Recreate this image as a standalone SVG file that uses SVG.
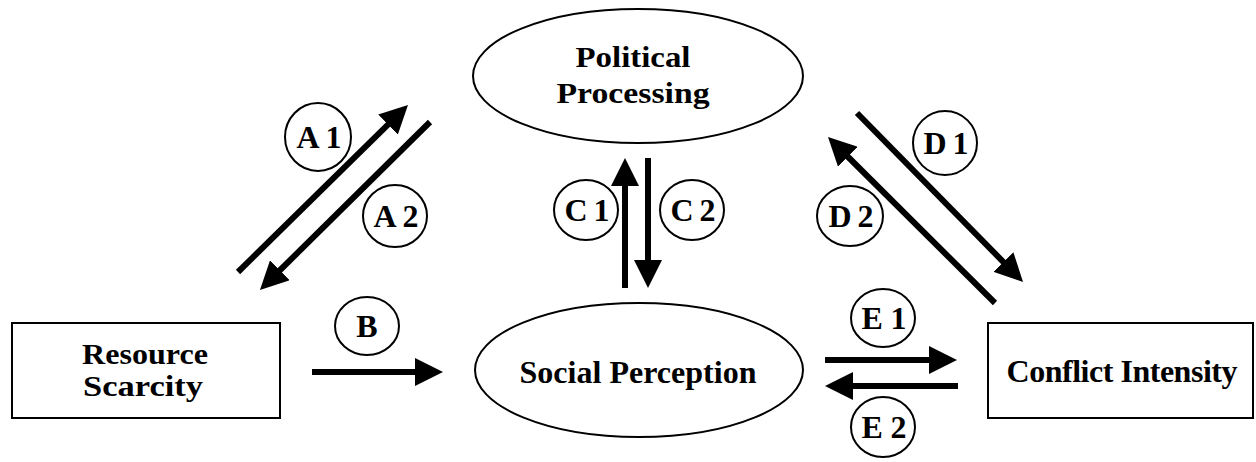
<svg xmlns="http://www.w3.org/2000/svg" width="1256" height="462" viewBox="0 0 1256 462">
<style>
.node{fill:#fff;stroke:#000;stroke-width:2}
.lbl{fill:#fff;stroke:#000;stroke-width:2}
.t{font-family:"Liberation Serif","Times New Roman",serif;font-weight:bold;font-size:32px;fill:#000;text-anchor:middle}
.ts{font-family:"Liberation Serif","Times New Roman",serif;font-weight:bold;font-size:29px;fill:#000;text-anchor:middle}
.tl{font-family:"Liberation Serif","Times New Roman",serif;font-weight:bold;font-size:32px;fill:#000;text-anchor:middle}
.arr{stroke:#000;stroke-width:6;fill:none;marker-end:url(#ah)}
</style>
<defs>
<marker id="ah" viewBox="0 0 28 28" refX="6" refY="14" markerWidth="28" markerHeight="28" markerUnits="userSpaceOnUse" orient="auto">
<path d="M0,0 L28,14 L0,28 z" fill="#000"/>
</marker>
</defs>
<rect width="1256" height="462" fill="#fff"/>
<g id="political-processing">
<ellipse class="node" cx="638" cy="76" rx="165" ry="67"/>
<text class="ts" x="633" y="67" textLength="115" lengthAdjust="spacingAndGlyphs">Political</text>
<text class="ts" x="633" y="103" textLength="153" lengthAdjust="spacingAndGlyphs">Processing</text>
</g>
<g id="social-perception">
<ellipse class="node" cx="639" cy="370" rx="164" ry="67"/>
<text class="t" x="638" y="383" textLength="237" lengthAdjust="spacing">Social Perception</text>
</g>
<g id="resource-scarcity">
<rect class="node" x="12" y="323" width="268" height="95"/>
<text class="ts" x="145" y="364" textLength="126" lengthAdjust="spacingAndGlyphs">Resource</text>
<text class="ts" x="143" y="396" textLength="120" lengthAdjust="spacingAndGlyphs">Scarcity</text>
</g>
<g id="conflict-intensity">
<rect class="node" x="988" y="323" width="265" height="95"/>
<text class="t" x="1122" y="382" textLength="231" lengthAdjust="spacing">Conflict Intensity</text>
</g>
<g id="connectors">
<path class="arr" d="M238,272 L392.3,120.4"/>
<path class="arr" d="M430,122 L275.6,274.5"/>
<path class="arr" d="M312,372 L421,372"/>
<path class="arr" d="M625,288 L625,180"/>
<path class="arr" d="M648,158 L648,266"/>
<path class="arr" d="M857,113 L1007.6,266.3"/>
<path class="arr" d="M995,303 L843.6,152.5"/>
<path class="arr" d="M825,360 L935,360"/>
<path class="arr" d="M958,386 L847,386"/>
</g>
<g id="label-a1"><ellipse class="lbl" cx="318" cy="137" rx="33" ry="34"/><text class="tl" x="319" y="148" textLength="45" lengthAdjust="spacing">A 1</text></g>
<g id="label-a2"><ellipse class="lbl" cx="395" cy="216" rx="32" ry="31"/><text class="tl" x="396" y="227" textLength="45" lengthAdjust="spacing">A 2</text></g>
<g id="label-b"><ellipse class="lbl" cx="367" cy="326" rx="32" ry="29"/><text class="tl" x="367" y="337">B</text></g>
<g id="label-c1"><ellipse class="lbl" cx="586" cy="210" rx="32" ry="30"/><text class="tl" x="587" y="221" textLength="45" lengthAdjust="spacing">C 1</text></g>
<g id="label-c2"><ellipse class="lbl" cx="692" cy="210" rx="32" ry="30"/><text class="tl" x="693" y="221" textLength="45" lengthAdjust="spacing">C 2</text></g>
<g id="label-d1"><ellipse class="lbl" cx="945" cy="143" rx="32" ry="32"/><text class="tl" x="946" y="154" textLength="45" lengthAdjust="spacing">D 1</text></g>
<g id="label-d2"><ellipse class="lbl" cx="850" cy="216" rx="33" ry="30"/><text class="tl" x="851" y="227" textLength="45" lengthAdjust="spacing">D 2</text></g>
<g id="label-e1"><ellipse class="lbl" cx="883" cy="318" rx="32" ry="29"/><text class="tl" x="884" y="329" textLength="45" lengthAdjust="spacing">E 1</text></g>
<g id="label-e2"><ellipse class="lbl" cx="883" cy="427" rx="32" ry="30"/><text class="tl" x="884" y="438" textLength="45" lengthAdjust="spacing">E 2</text></g>
</svg>
